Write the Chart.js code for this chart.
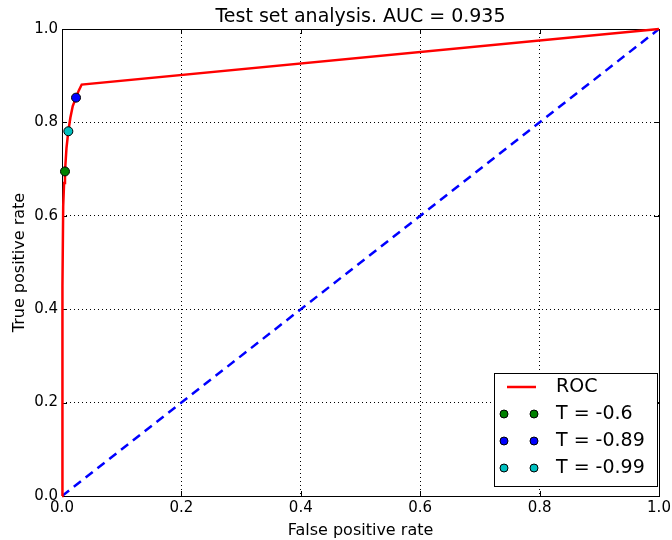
<!DOCTYPE html>
<html>
<head>
<meta charset="utf-8">
<script src="https://cdn.jsdelivr.net/npm/chart.js@4/dist/chart.umd.min.js"></script>
<style>
  html, body { margin: 0; padding: 0; background: #fff; }
  canvas { display: block; }
</style>
</head>
<body>
<canvas id="roc" width="672" height="540"></canvas>
<script>
// ROC curve
const rocFpr = [0, 0.0005, 0.001, 0.002, 0.0035, 0.005, 0.0075, 0.0106, 0.014, 0.018, 0.0235, 0.028, 0.033, 1];
const rocTpr = [0, 0.2, 0.45, 0.62, 0.67, 0.695, 0.745, 0.781, 0.81, 0.835, 0.853, 0.868, 0.881, 1];
const chanceX = [0, 1];
const chanceY = [0, 1];
// threshold markers
const thrLabels = ['T = -0.6', 'T = -0.89', 'T = -0.99'];
const thrFpr = [0.005, 0.0235, 0.0106];
const thrTpr = [0.695, 0.853, 0.781];
const thrColors = ['#008000', '#0000ff', '#00bfbf'];
const tickVals = [0, 0.2, 0.4, 0.6, 0.8, 1.0];

const FONT = 'DejaVu Sans';

const datasets = [
  {
    label: 'ROC',
    data: rocFpr.map((x, i) => ({ x: x, y: rocTpr[i] })),
    showLine: true,
    borderColor: '#ff0000',
    borderWidth: 2.5,
    pointRadius: 0,
    tension: 0,
    clip: 4,
    order: 2
  },
  {
    label: 'chance',
    data: chanceX.map((x, i) => ({ x: x, y: chanceY[i] })),
    showLine: true,
    borderColor: '#0000ff',
    borderWidth: 2.5,
    borderDash: [9, 6],
    pointRadius: 0,
    order: 3
  }
];
thrLabels.forEach((lab, i) => {
  datasets.push({
    label: lab,
    data: [{ x: thrFpr[i], y: thrTpr[i] }],
    backgroundColor: thrColors[i],
    borderColor: '#000',
    borderWidth: 1,
    pointRadius: 4.5,
    clip: 6,
    order: 1
  });
});

const framePlugin = {
  id: 'frame',
  beforeDatasetsDraw(chart) {
    const ctx = chart.ctx;
    const a = chart.chartArea;
    ctx.save();
    ctx.strokeStyle = '#000';
    ctx.lineWidth = 1;
    ctx.strokeRect(a.left + 0.5, a.top + 0.5, a.right - a.left, a.bottom - a.top);
    // small inward ticks
    const xs = chart.scales.x, ys = chart.scales.y;
    ctx.beginPath();
    tickVals.forEach(v => {
      const px = Math.round(xs.getPixelForValue(v)) + 0.5;
      ctx.moveTo(px, a.top); ctx.lineTo(px, a.top + 5);
      ctx.moveTo(px, a.bottom); ctx.lineTo(px, a.bottom - 5);
      const py = Math.round(ys.getPixelForValue(v)) + 0.5;
      ctx.moveTo(a.left, py); ctx.lineTo(a.left + 5, py);
      ctx.moveTo(a.right, py); ctx.lineTo(a.right - 5, py);
    });
    ctx.stroke();
    ctx.restore();
  },
  afterDraw(chart) {
    const ctx = chart.ctx;
    const a = chart.chartArea;
    ctx.save();
    // title
    ctx.fillStyle = '#000';
    ctx.font = '19px "' + FONT + '"';
    ctx.textAlign = 'center';
    ctx.textBaseline = 'alphabetic';
    ctx.fillText('Test set analysis. AUC = 0.935', (a.left + a.right) / 2, 22);

    // legend
    const bx = a.right - 165, by = a.bottom - 123, bw = 163, bh = 113;
    ctx.fillStyle = '#fff';
    ctx.fillRect(bx, by, bw, bh);
    ctx.strokeStyle = '#000';
    ctx.lineWidth = 1;
    ctx.strokeRect(bx + 0.5, by + 0.5, bw, bh);
    const rows = [by + 14, by + 41, by + 68, by + 95];
    ctx.strokeStyle = '#ff0000';
    ctx.lineWidth = 2.5;
    ctx.beginPath();
    ctx.moveTo(bx + 13, rows[0]); ctx.lineTo(bx + 42, rows[0]);
    ctx.stroke();
    ctx.font = '19px "' + FONT + '"';
    ctx.textAlign = 'left';
    ctx.textBaseline = 'middle';
    ctx.fillStyle = '#000';
    ctx.fillText('ROC', bx + 62, rows[0]);
    const legendColors = ['#008000', '#0000ff', '#00bfbf'];
    const legendLabels = ['T = -0.6', 'T = -0.89', 'T = -0.99'];
    legendLabels.forEach((lab, i) => {
      const y = rows[i + 1];
      [bx + 10, bx + 40].forEach(mx => {
        ctx.beginPath();
        ctx.arc(mx, y, 4, 0, Math.PI * 2);
        ctx.fillStyle = legendColors[i];
        ctx.fill();
        ctx.lineWidth = 1;
        ctx.strokeStyle = '#000';
        ctx.stroke();
      });
      ctx.fillStyle = '#000';
      ctx.fillText(lab, bx + 62, y);
    });
    ctx.restore();
  }
};

new Chart(document.getElementById('roc').getContext('2d'), {
  type: 'scatter',
  data: { datasets: datasets },
  options: {
    responsive: false,
    animation: false,
    devicePixelRatio: 1,
    layout: { padding: { top: 29, right: 13, left: 0, bottom: 0 } },
    plugins: {
      legend: { display: false },
      title: { display: false },
      tooltip: { enabled: false }
    },
    scales: {
      x: {
        type: 'linear',
        min: 0, max: 1,
        afterFit: s => { s.height = 44; s.paddingLeft = 0; s.paddingRight = 0; },
        afterBuildTicks: s => { s.ticks = tickVals.map(v => ({ value: v })); },
        ticks: {
          color: '#000',
          font: { family: FONT, size: 15 },
          padding: 3,
          maxRotation: 0,
          callback: v => v.toFixed(1)
        },
        grid: { color: '#000', lineWidth: 1, drawTicks: false },
        border: { display: false, dash: [1, 3] },
        title: {
          display: true,
          text: 'False positive rate',
          color: '#000',
          font: { family: FONT, size: 16 },
          padding: { top: 4, bottom: 0 }
        }
      },
      y: {
        type: 'linear',
        min: 0, max: 1,
        afterFit: s => { s.width = 62; s.paddingTop = 0; s.paddingBottom = 0; },
        afterBuildTicks: s => { s.ticks = tickVals.map(v => ({ value: v })); },
        ticks: {
          color: '#000',
          font: { family: FONT, size: 15 },
          padding: 4,
          callback: v => v.toFixed(1)
        },
        grid: { color: '#000', lineWidth: 1, drawTicks: false },
        border: { display: false, dash: [1, 3] },
        title: {
          display: true,
          text: 'True positive rate',
          color: '#000',
          font: { family: FONT, size: 16 },
          padding: { top: 10, bottom: 0 }
        }
      }
    }
  },
  plugins: [framePlugin]
});
</script>
</body>
</html>
